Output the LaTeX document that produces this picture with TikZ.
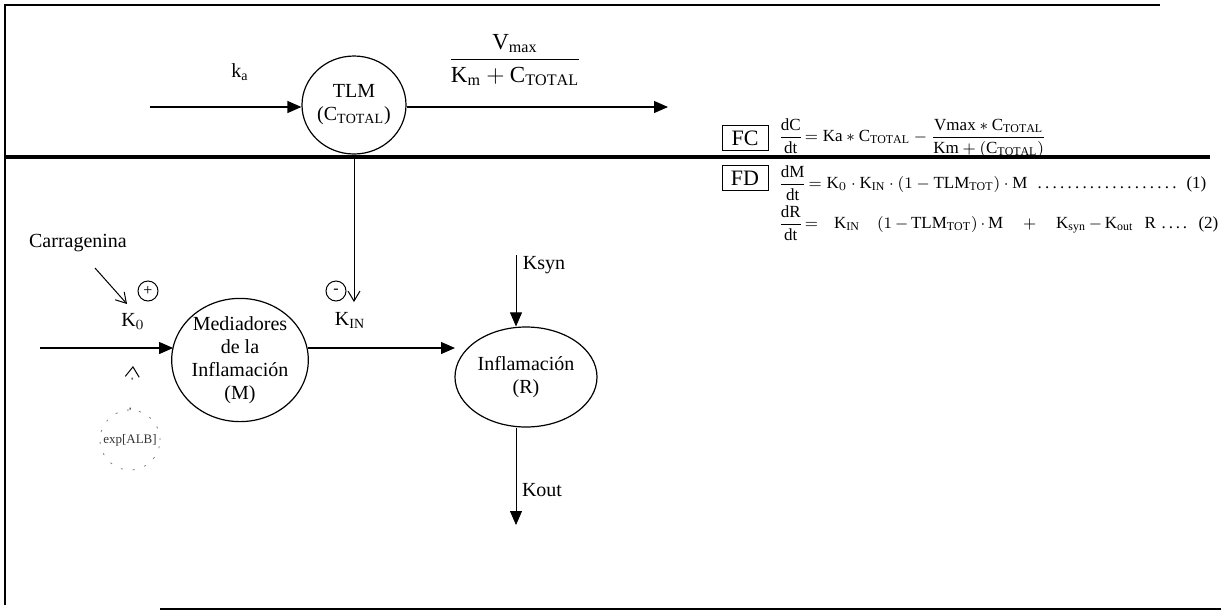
\documentclass[tikz,border=0pt]{standalone}
\usepackage{fontspec}
\setmainfont{Liberation Serif}
\usetikzlibrary{arrows.meta,shapes.geometric}
\begin{document}
\begin{tikzpicture}[x=0.5pt,y=-0.5pt,
  lbl/.style={font=\fontsize{10}{11}\selectfont, inner sep=1pt},
  ell/.style={draw, ellipse, inner sep=0pt, line width=0.6pt, align=center, font=\fontsize{10}{11.5}\selectfont},
  fillarrow/.style={-{Triangle[length=7pt,width=6pt]}, line width=0.6pt},
  openarrow/.style={-{Straight Barb[length=5pt,width=6pt]}, line width=0.5pt},
  thinline/.style={line width=0.4pt},
  sign/.style={draw, circle, minimum size=10pt, inner sep=0pt, line width=0.5pt, font=\fontsize{8}{9}\selectfont},
  eq/.style={font=\fontsize{8.5}{10}\selectfont, inner sep=0pt, anchor=west},
  tagbox/.style={draw, line width=0.5pt, minimum width=23pt, minimum height=12.5pt, inner sep=0pt, font=\fontsize{11}{12}\selectfont}]
\useasboundingbox (0,0) rectangle (1221,612);
% frame
\draw[line width=0.6pt] (1160,5) -- (5,5) -- (5,605);
\draw[line width=0.6pt] (160,609) -- (1221,609);
\draw[line width=2.4pt] (5,157) -- (1210,157);

% top compartment
\node[ell, minimum width=51pt, minimum height=49pt] (tlm) at (354,105) {TLM\\(C$_{\mathrm{TOTAL}}$)};
\coordinate (kaS) at (150,107);
\coordinate (outE) at (668,107);
\draw[fillarrow] (kaS) -- (kaS -| tlm.west);
\draw[fillarrow] (tlm.east |- outE) -- (outE);
\node[lbl] (ka) at (240,72) {k$_{\mathrm{a}}$};
\node[lbl, font=\fontsize{11.5}{12}\selectfont] (vm) at (515,60) {$\displaystyle\frac{\mathrm{V}_{\mathrm{max}}}{\mathrm{K}_{\mathrm{m}}+\mathrm{C}_{\mathrm{TOTAL}}}$};

% equations
\node[tagbox] (fc) at (745,138) {FC};
\node[eq] (eqc) at (778,138) {$\displaystyle\frac{\mathrm{dC}}{\mathrm{dt}}\!=\mathrm{Ka} * \mathrm{C}_{\mathrm{TOTAL}} - \frac{\mathrm{Vmax} * \mathrm{C}_{\mathrm{TOTAL}}}{\mathrm{Km} + (\mathrm{C}_{\mathrm{TOTAL}})}$};
\node[tagbox] (fd) at (745,178) {FD};
\node[eq, text width=214pt] (eqm) at (778,183) {$\displaystyle\frac{\mathrm{dM}}{\mathrm{dt}}\!=\mathrm{K}_{0}\cdot\mathrm{K}_{\mathrm{IN}}\cdot(1-\mathrm{TLM}_{\mathrm{TOT}})\cdot\mathrm{M}$ \dotfill\ (1)};
\node[eq, text width=220pt] (eqr) at (778,223) {$\displaystyle\frac{\mathrm{dR}}{\mathrm{dt}}\!=\ \ \mathrm{K}_{\mathrm{IN}}\ \ \ (1-\mathrm{TLM}_{\mathrm{TOT}})\cdot\mathrm{M}\quad+\quad\mathrm{K}_{\mathrm{syn}}-\mathrm{K}_{\mathrm{out}}\ \ \mathrm{R}$ \hfill.\,.\,.\,.\ \ (2)};

% bottom compartment
\node[ell, minimum width=56pt, minimum height=58pt] (med) at (240,360) {Mediadores\\de la\\Inflamación\\(M)};
\node[ell, minimum width=71pt, minimum height=50pt] (inf) at (526,377) {Inflamación\\(R)};

\coordinate (kinT) at (354,302);
\draw[openarrow] (tlm.south) -- (kinT);
\node[lbl] (kin) at (350,320) {K$_{\mathrm{IN}}$};
\node[sign] (minus) at (336,291) {-};

\node[lbl] (car) at (78,243) {Carragenina};
\coordinate (carS) at (95,268);
\coordinate (carT) at (127,304);
\draw[openarrow] (carS) -- (carT);
\node[sign] (plus) at (148,291) {+};
\node[lbl] (k0) at (133,321) {K$_{0}$};

\coordinate (inS) at (40,348);
\draw[fillarrow] (inS) -- ([xshift=1pt]inS -| med.west);
\coordinate (mS) at (308,348);
\coordinate (mE) at (455,348);
\draw[fillarrow] (mS) -- (mE);

\coordinate (ksynS) at (516,255);
\draw[fillarrow, thinline] (ksynS) -- (ksynS |- inf.north);
\node[lbl] (ksyn) at (544,265) {Ksyn};
\coordinate (koutE) at (516,525);
\draw[fillarrow, thinline] (koutE |- inf.south) -- (koutE);
\node[lbl] (kout) at (542,490) {Kout};

% exp[ALB]
\node[draw, circle, minimum size=30pt, inner sep=0pt, gray, dash pattern=on 1pt off 5pt, font=\fontsize{6.5}{7}\selectfont, text=black!80] (alb) at (130,440) {exp[ALB]};
\coordinate (albT) at (133,366);
\draw[-{Straight Barb[length=5pt,width=7pt]}, line width=0.5pt, dash pattern=on 1pt off 14pt] (alb.north) -- (albT);
\end{tikzpicture}
\end{document}
